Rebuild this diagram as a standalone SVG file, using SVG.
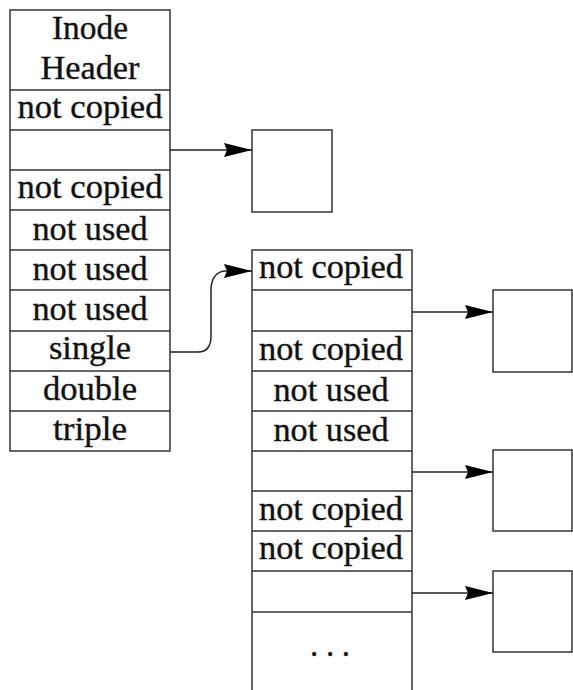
<svg xmlns="http://www.w3.org/2000/svg" width="573" height="690" viewBox="0 0 573 690">
<style>
.box{fill:#fff;stroke:#333;stroke-width:1.5}
.ln{stroke:#333;stroke-width:1.5;fill:none}
.t{font-family:"Liberation Serif","Times New Roman",serif;font-size:33px;fill:#111;stroke:#111;stroke-width:0.35;text-anchor:middle}
.c{stroke:#222;stroke-width:1.5;fill:none;marker-end:url(#ah)}
</style>
<defs>
<marker id="ah" markerUnits="userSpaceOnUse" markerWidth="30" markerHeight="16" refX="28" refY="8" orient="auto">
<path d="M0,1 L28,8 L0,15 L3,8 Z" fill="#000"/>
</marker>
</defs>
<rect width="573" height="690" fill="#fff"/>
<g id="inode">
<rect class="box" x="10" y="10" width="160" height="441"/>
<path class="ln" d="M10,90H170M10,130H170M10,170H170M10,210H170M10,250H170M10,290H170M10,331H170M10,371H170M10,411H170"/>
<text class="t" x="90" y="39" textLength="76" lengthAdjust="spacingAndGlyphs">Inode</text>
<text class="t" x="90" y="79" textLength="99" lengthAdjust="spacingAndGlyphs">Header</text>
<text class="t" x="90" y="118" textLength="145" lengthAdjust="spacingAndGlyphs">not copied</text>
<text class="t" x="90" y="198" textLength="145" lengthAdjust="spacingAndGlyphs">not copied</text>
<text class="t" x="90" y="240" textLength="115" lengthAdjust="spacingAndGlyphs">not used</text>
<text class="t" x="90" y="280" textLength="115" lengthAdjust="spacingAndGlyphs">not used</text>
<text class="t" x="90" y="320" textLength="115" lengthAdjust="spacingAndGlyphs">not used</text>
<text class="t" x="90" y="359" textLength="82" lengthAdjust="spacingAndGlyphs">single</text>
<text class="t" x="90" y="400" textLength="94" lengthAdjust="spacingAndGlyphs">double</text>
<text class="t" x="90" y="440" textLength="74" lengthAdjust="spacingAndGlyphs">triple</text>
</g>
<g id="block1">
<rect class="box" x="252" y="130" width="80" height="82"/>
</g>
<g id="indirect">
<path class="ln" d="M252,690V250H412V690"/>
<path class="ln" d="M252,290H412M252,331H412M252,371H412M252,411H412M252,451H412M252,491H412M252,531H412M252,571H412M252,612H412"/>
<text class="t" x="331" y="278" textLength="144" lengthAdjust="spacingAndGlyphs">not copied</text>
<text class="t" x="331" y="360" textLength="144" lengthAdjust="spacingAndGlyphs">not copied</text>
<text class="t" x="331" y="401" textLength="115" lengthAdjust="spacingAndGlyphs">not used</text>
<text class="t" x="331" y="441" textLength="115" lengthAdjust="spacingAndGlyphs">not used</text>
<text class="t" x="331" y="520" textLength="144" lengthAdjust="spacingAndGlyphs">not copied</text>
<text class="t" x="331" y="559" textLength="144" lengthAdjust="spacingAndGlyphs">not copied</text>
<text class="t" x="330" y="656" textLength="40" lengthAdjust="spacing">. . .</text>
</g>
<g id="block2"><rect class="box" x="493" y="290" width="79" height="82"/></g>
<g id="block3"><rect class="box" x="493" y="450" width="79" height="81"/></g>
<g id="block4"><rect class="box" x="493" y="571" width="79" height="81"/></g>
<g id="connectors">
<path class="c" d="M170,352H198C207,352 211,346 211,336V290C211,279 216,271 226,271H252"/>
<path class="c" d="M170,150H252"/>
<path class="c" d="M412,312H493"/>
<path class="c" d="M412,472H493"/>
<path class="c" d="M412,593H493"/>
</g>
</svg>
